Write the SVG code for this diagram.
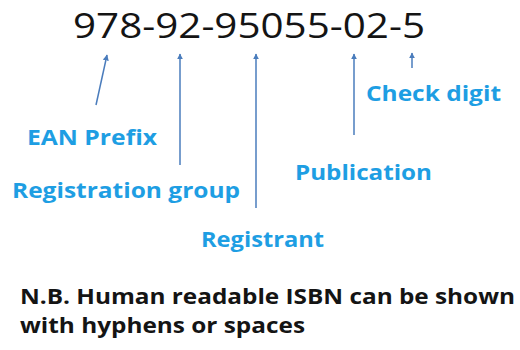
<svg xmlns="http://www.w3.org/2000/svg" width="520" height="350" viewBox="0 0 520 350">
  <style>
    .isbn { font-family: "Open Sans", "Liberation Sans", sans-serif; font-size: 35px; fill: #141414; }
    .label { font-family: "Open Sans", "Liberation Sans", sans-serif; font-weight: bold; font-size: 21px; fill: #1e9ee3; }
    .note { font-family: "Open Sans", "Liberation Sans", sans-serif; font-weight: bold; font-size: 21.5px; fill: #141414; }
    .arrow { stroke: #4a7cbc; stroke-width: 1.5; fill: none; marker-end: url(#head); }
  </style>
  <defs>
    <marker id="head" viewBox="0 0 10 10" refX="9" refY="5" markerWidth="6" markerHeight="6" orient="auto" markerUnits="userSpaceOnUse">
      <path d="M0,0 L10,5 L0,10 Z" fill="#4a7cbc"/>
    </marker>
  </defs>
  <rect width="520" height="350" fill="#ffffff"/>

  <g id="isbn-number">
    <text class="isbn" x="73" y="38" textLength="352" lengthAdjust="spacingAndGlyphs">978-92-95055-02-5</text>
  </g>

  <g id="connectors">
    <line class="arrow" x1="96" y1="105" x2="107" y2="55"/>
    <line class="arrow" x1="180" y1="165" x2="180" y2="54"/>
    <line class="arrow" x1="256" y1="208" x2="256" y2="54"/>
    <line class="arrow" x1="354" y1="135" x2="354" y2="54"/>
    <line class="arrow" x1="412" y1="68" x2="412" y2="53"/>
  </g>

  <g id="ean-prefix">
    <text class="label" x="27" y="145" textLength="130" lengthAdjust="spacingAndGlyphs">EAN Prefix</text>
  </g>
  <g id="registration-group">
    <text class="label" x="12" y="198" textLength="228" lengthAdjust="spacingAndGlyphs">Registration group</text>
  </g>
  <g id="registrant">
    <text class="label" x="201" y="247" textLength="123" lengthAdjust="spacingAndGlyphs">Registrant</text>
  </g>
  <g id="publication">
    <text class="label" x="295" y="180" textLength="137" lengthAdjust="spacingAndGlyphs">Publication</text>
  </g>
  <g id="check-digit">
    <text class="label" x="366" y="101" textLength="135" lengthAdjust="spacingAndGlyphs">Check digit</text>
  </g>

  <g id="note">
    <text class="note" x="20" y="304" textLength="495" lengthAdjust="spacingAndGlyphs">N.B. Human readable ISBN can be shown</text>
    <text class="note" x="20" y="333" textLength="285" lengthAdjust="spacingAndGlyphs">with hyphens or spaces</text>
  </g>
</svg>
